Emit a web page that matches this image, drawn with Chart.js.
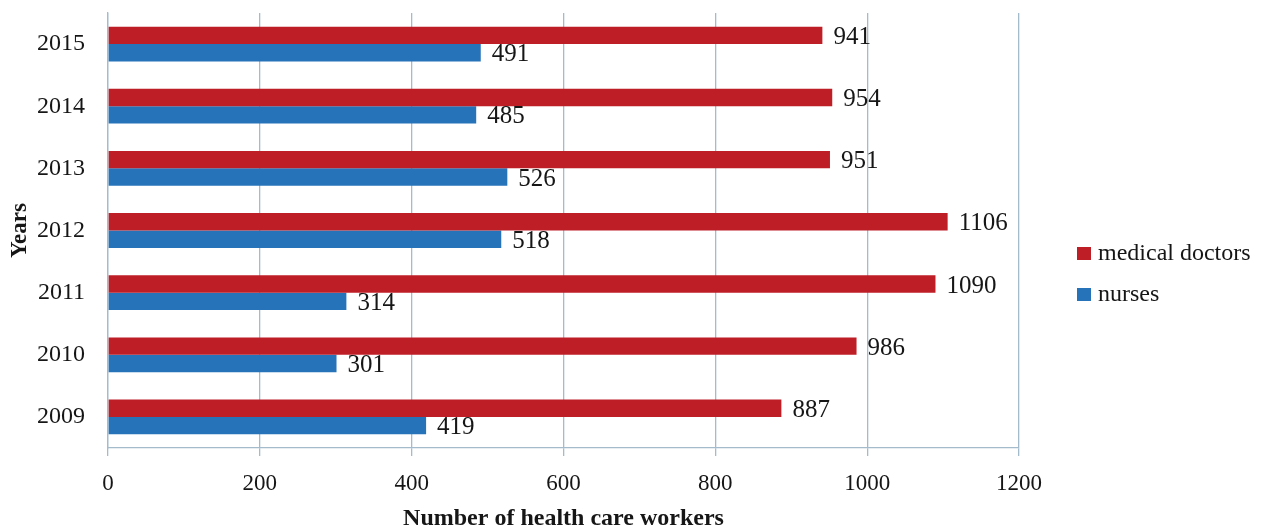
<!DOCTYPE html>
<html>
<head>
<meta charset="utf-8">
<script src="https://cdn.jsdelivr.net/npm/chart.js@4/dist/chart.umd.min.js"></script>
<style>
  html, body { margin: 0; padding: 0; background: #fff; }
  #wrap { width: 1267px; height: 529px; }
</style>
</head>
<body>
<div id="wrap"><canvas id="chart" width="1267" height="529"></canvas></div>
<script>
// years from top to bottom as shown
const years = ['2015', '2014', '2013', '2012', '2011', '2010', '2009'];
const doctors = [941, 954, 951, 1106, 1090, 986, 887];
const nurses = [491, 485, 526, 518, 314, 301, 419];
const xTicks = [0, 200, 400, 600, 800, 1000, 1200];

const gridColor = '#a3bbcb';
const textColor = '#161616';

Chart.defaults.font.family = "'Liberation Serif', 'Times New Roman', serif";
Chart.defaults.color = textColor;

// value labels at the end of each bar
const barLabels = {
  id: 'barLabels',
  afterDatasetsDraw(chart) {
    const ctx = chart.ctx;
    ctx.save();
    ctx.font = "25px 'Liberation Serif', serif";
    ctx.fillStyle = textColor;
    ctx.textAlign = 'left';
    ctx.textBaseline = 'middle';
    chart.data.datasets.forEach((ds, i) => {
      chart.getDatasetMeta(i).data.forEach((bar, j) => {
        ctx.fillText(String(ds.data[j]), bar.x + 11, bar.y + 2);
      });
    });
    ctx.restore();
  }
};

// legend on the right, lower than the middle like the original
const sideLegend = {
  id: 'sideLegend',
  afterDraw(chart) {
    const ctx = chart.ctx;
    const x = chart.chartArea.right + 58;
    let y = 254;
    ctx.save();
    ctx.font = "24px 'Liberation Serif', serif";
    ctx.textBaseline = 'middle';
    chart.data.datasets.forEach(ds => {
      ctx.fillStyle = ds.backgroundColor;
      ctx.fillRect(x, y - 7, 14, 13);
      ctx.fillStyle = textColor;
      ctx.fillText(ds.label, x + 21, y);
      y += 41;
    });
    ctx.restore();
  }
};

new Chart(document.getElementById('chart'), {
  type: 'bar',
  data: {
    labels: years,
    datasets: [
      { label: 'medical doctors', data: doctors, backgroundColor: '#be1e26' },
      { label: 'nurses', data: nurses, backgroundColor: '#2673b9' },
    ],
  },
  options: {
    indexAxis: 'y',
    responsive: false,
    animation: false,
    devicePixelRatio: 1,
    categoryPercentage: 0.56,
    barPercentage: 1.0,
    layout: { padding: { top: 13, right: 248, left: 0, bottom: 0 } },
    plugins: {
      legend: { display: false },
      tooltip: { enabled: false },
    },
    scales: {
      x: {
        min: 0,
        max: 1200,
        afterBuildTicks: axis => { axis.ticks = xTicks.map(v => ({ value: v })); },
        afterFit: axis => { axis.height = 81; },
        grid: { color: gridColor, lineWidth: 1.3, tickLength: 8 },
        border: { color: gridColor, width: 1.3 },
        ticks: {
          padding: 14,
          font: { size: 23 },
          color: textColor,
          callback: v => String(v),
        },
        title: {
          display: true,
          text: 'Number of health care workers',
          font: { size: 24, weight: 'bold', lineHeight: 1 },
          color: textColor,
          padding: { top: 0, bottom: -2 },
        },
      },
      y: {
        afterFit: axis => { axis.width = 108; },
        // ticks not drawn, tickLength only spaces the labels off the axis
        grid: { display: false, drawTicks: true, tickLength: 23 },
        border: { display: true, color: gridColor, width: 1.3 },
        ticks: { padding: 0, font: { size: 24, lineHeight: 1 }, color: textColor },
        title: {
          display: true,
          text: 'Years',
          font: { size: 23, weight: 'bold', lineHeight: 1 },
          color: textColor,
          padding: { top: 9, bottom: 0 },
        },
      },
    },
  },
  plugins: [barLabels, sideLegend],
});
</script>
</body>
</html>
